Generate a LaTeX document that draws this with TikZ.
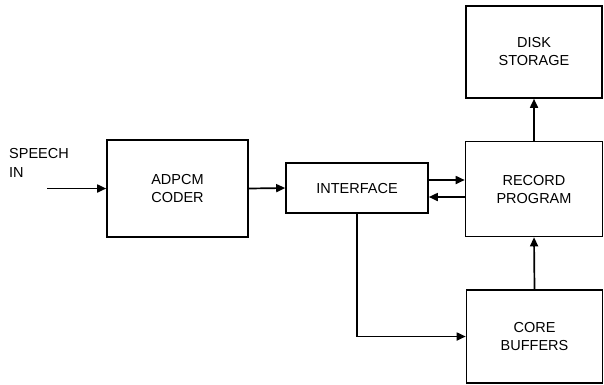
\documentclass[tikz,border=0pt]{standalone}
\usepackage{fontspec}
\setmainfont{Liberation Sans}
\usetikzlibrary{arrows.meta, positioning, calc}

\begin{document}
\begin{tikzpicture}[
    x=1pt, y=-1pt,
    block/.style={draw, line width=1.6pt, rectangle, align=center, inner sep=0pt, font=\fontsize{14.5}{18}\selectfont},
    flow/.style={draw, line width=1.7pt, -{Triangle[length=9pt, width=8pt]}}
]
    \useasboundingbox (0,0) rectangle (604,384);

    \node[block, minimum width=141pt, minimum height=97pt] (coder) at (177.5,188.5) {ADPCM\\CODER};
    \node[block, minimum width=142pt, minimum height=50pt] (iface) at (357,188) {INTERFACE};
    \node[block, minimum width=136pt, minimum height=92pt] (disk) at (534,52) {DISK\\STORAGE};
    \node[block, minimum width=137pt, minimum height=95pt] (record) at (534,189) {RECORD\\PROGRAM};
    \node[block, minimum width=136pt, minimum height=93pt] (core) at (534.5,336.5) {CORE\\BUFFERS};

    % input
    \node[anchor=north west, align=left, inner sep=0pt, font=\fontsize{14.5}{19}\selectfont] (speech) at (9,148) {SPEECH\\IN};
    \coordinate (speechin) at (47,188.5);

    \draw[flow] (speechin) -- (coder.west);
    \draw[flow] (coder.east) -- (iface.west);
    \draw[flow] ([yshift=8pt]iface.east) -- ([yshift=8pt]iface.east -| record.west);
    \draw[flow] ([yshift=-9pt]iface.east -| record.west) -- ([yshift=-9pt]iface.east);
    \draw[flow] (iface.south) |- (core.west);
    \draw[flow] (core.north) -- (record.south);
    \draw[flow] (record.north) -- (disk.south);
\end{tikzpicture}
\end{document}
